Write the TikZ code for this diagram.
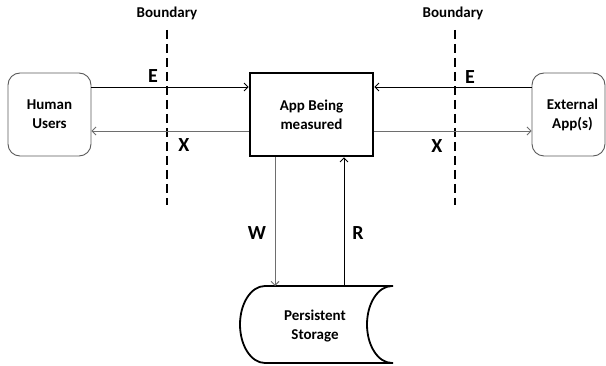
\documentclass[tikz,border=0pt]{standalone}
\usepackage{fontspec}
\setmainfont{Carlito}
\usetikzlibrary{arrows.meta}
\definecolor{edgegray}{RGB}{90,90,90}
\definecolor{linegray}{RGB}{110,110,110}
\tikzset{
  userbox/.style={draw=edgegray, line width=0.9pt, rounded corners=12pt, minimum width=83pt, minimum height=83pt, inner sep=0pt, align=center, font=\fontsize{15}{19}\selectfont\bfseries},
  appbox/.style={draw=black, line width=2.6pt, minimum width=123pt, minimum height=83pt, inner sep=0pt, align=center, font=\fontsize{15}{19}\selectfont\bfseries},
  flow/.style={line width=0.9pt, -{Straight Barb[length=4pt,width=8pt]}},
  flowgray/.style={flow, draw=linegray},
  bound/.style={line width=2.6pt, dash pattern=on 9pt off 5pt},
  blabel/.style={font=\fontsize{15}{17}\selectfont\bfseries},
  flabel/.style={font=\fontsize{20}{22}\selectfont\bfseries},
  stlabel/.style={font=\fontsize{15}{19}\selectfont\bfseries, align=center}
}
\begin{document}
\begin{tikzpicture}[x=1pt,y=-1pt]
\useasboundingbox (0,0) rectangle (606,366);
% nodes
\node[userbox] (hu) at (49.5,114.5) {Human\\Users};
\node[userbox, minimum width=73pt] (ex) at (568.5,114.5) {\hspace*{8pt}External\\\hspace*{8pt}App(s)};
\node[appbox] (app) at (311.5,114.5) {App Being\\measured};
% levels
\coordinate (yE) at (0,87);
\coordinate (yX) at (0,131);
% boundaries
\coordinate (b1t) at (167,30);
\coordinate (b1b) at (167,205);
\coordinate (b2t) at (455,30);
\coordinate (b2b) at (455,205);
\draw[bound] (b1t) -- (b1b);
\draw[bound] (b2t) -- (b2b);
\node[blabel] (bl1) at (167,13) {Boundary};
\node[blabel] (bl2) at (453,13) {Boundary};
% flows left
\draw[flow] (hu.east |- yE) -- (app.west |- yE);
\draw[flowgray] (app.west |- yX) -- (hu.east |- yX);
% flows right
\draw[flow] (ex.west |- yE) -- (app.east |- yE);
\draw[flowgray] (app.east |- yX) -- (ex.west |- yX);
\node[flabel] (e1) at (153,76) {E};
\node[flabel] (x1) at (184,145) {X};
\node[flabel] (e2) at (470,77) {E};
\node[flabel] (x2) at (437,146) {X};
% storage
\draw[line width=1.8pt] (393,286) -- (265,286) arc[start angle=90, end angle=270, x radius=25pt, y radius=38.5pt] -- (393,363);
\draw[line width=1.8pt] (392,286) arc[start angle=90, end angle=270, x radius=25pt, y radius=38.5pt];
\node[stlabel] (st) at (315,326) {Persistent\\Storage};
\coordinate (stW) at (275,286);
\coordinate (stR) at (344,286);
\draw[flowgray] (app.south -| stW) -- (stW);
\draw[flow] (stR) -- (app.south -| stR);
\node[flabel] (w) at (257,233) {W};
\node[flabel] (r) at (358,233) {R};
\end{tikzpicture}
\end{document}
